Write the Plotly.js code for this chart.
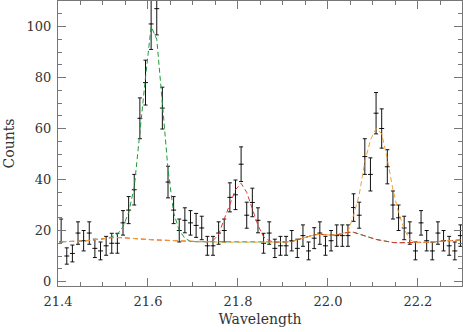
<!DOCTYPE html>
<html>
<head>
<meta charset="utf-8">
<script src="https://cdn.plot.ly/plotly-3.0.1.min.js"></script>
<style>
  html, body { margin: 0; padding: 0; background: #fff; }
  #plot { width: 463px; height: 332px; }
</style>
</head>
<body>
<div id="plot"></div>
<script>
// bin centres (Angstrom)
var wavelength = [21.407, 21.4195, 21.432, 21.4445, 21.457, 21.4695, 21.482, 21.4945, 21.507, 21.5195,
  21.532, 21.5445, 21.557, 21.5695, 21.582, 21.5945, 21.607, 21.6195, 21.632, 21.6445,
  21.657, 21.6695, 21.682, 21.6945, 21.707, 21.7195, 21.732, 21.7445, 21.757, 21.7695,
  21.782, 21.7945, 21.807, 21.8195, 21.832, 21.8445, 21.857, 21.8695, 21.882, 21.8945,
  21.907, 21.9195, 21.932, 21.9445, 21.957, 21.9695, 21.982, 21.9945, 22.007, 22.0195,
  22.032, 22.0445, 22.057, 22.0695, 22.082, 22.0945, 22.107, 22.1195, 22.132, 22.1445,
  22.157, 22.1695, 22.182, 22.1945, 22.207, 22.2195, 22.232, 22.2445, 22.257, 22.2695,
  22.282, 22.2945];

// observed counts and errors
var counts = [20, 10, 11, 19, 16, 19, 13, 12, 14, 15,
  15, 23, 28, 36, 64, 78, 101, 107, 68, 39,
  28, 20, 24, 23, 22, 21, 14, 14, 19, 20,
  33, 34, 46, 26, 31, 24, 15, 19, 13, 14,
  14, 16, 13, 18, 12, 17, 19, 14, 16, 18,
  18, 18, 29, 26, 49, 42, 66, 60, 45, 30,
  25, 21, 19, 12, 23, 16, 12, 19, 16, 14,
  12, 18];
var countErr = [4.5, 3.2, 3.3, 4.4, 4.0, 4.4, 3.6, 3.5, 3.7, 3.9,
  3.9, 4.8, 5.3, 6.0, 8.0, 8.8, 10.0, 10.3, 8.2, 6.2,
  5.3, 4.5, 4.9, 4.8, 4.7, 4.6, 3.7, 3.7, 4.4, 4.5,
  5.7, 5.8, 6.8, 5.1, 5.6, 4.9, 3.9, 4.4, 3.6, 3.7,
  3.7, 4.0, 3.6, 4.2, 3.5, 4.1, 4.4, 3.7, 4.0, 4.2,
  4.2, 4.2, 5.4, 5.1, 7.0, 6.5, 8.1, 7.7, 6.7, 5.5,
  5.0, 4.6, 4.4, 3.5, 4.8, 4.0, 3.5, 4.4, 4.0, 3.7,
  3.5, 4.2];
var binHalfWidth = 0.0055;

// model continuum at each bin
var continuum = [15.6, 15.6, 15.7, 15.8, 15.9, 16.1, 16.3, 16.6, 16.9, 17.2,
  17.3, 17.2, 17.0, 16.8, 16.6, 16.5, 16.4, 16.3, 16.2, 16.1,
  16.0, 15.9, 15.8, 15.7, 15.6, 15.6, 15.5, 15.5, 15.4, 15.4,
  15.4, 15.4, 15.4, 15.4, 15.4, 15.4, 15.4, 15.4, 15.4, 15.4,
  15.5, 15.7, 16.3, 17.1, 17.8, 18.3, 18.5, 18.3, 18.2, 18.3,
  18.8, 19.3, 19.3, 18.7, 18.0, 17.2, 16.5, 16.0, 15.6, 15.3,
  15.2, 15.2, 15.2, 15.2, 15.3, 15.4, 15.5, 15.6, 15.8, 16.0,
  16.1, 16.3];

// line models where they rise above the continuum (start bin + values)
var greenStart = 9;
var greenLine = [17.5, 18.5, 21.5, 27, 37, 60, 80, 100, 95, 70, 44, 27, 20, 17];
var redStart = 27;
var redLine = [16, 18.5, 24.5, 30.5, 36, 38.5, 35, 28.5, 22, 17.5, 16];
var orangeStart = 51;
var orangeLine = [19.5, 26, 34, 47, 55.5, 60, 58, 48, 36, 27, 20.5, 16.5];

function withLine(start, vals) {
  var m = continuum.slice();
  for (var i = 0; i < vals.length; i++) m[start + i] = vals[i];
  return m;
}

var dataTrace = {
  x: wavelength,
  y: counts,
  mode: "markers",
  type: "scatter",
  marker: { size: 1, color: "#000" },
  error_y: { type: "data", array: countErr, color: "#111", thickness: 1, width: 2 },
  error_x: { type: "constant", value: binHalfWidth, color: "#111", thickness: 1, width: 0 },
  hoverinfo: "skip"
};

function modelTrace(y, color) {
  return {
    x: wavelength,
    y: y,
    mode: "lines",
    type: "scatter",
    line: { color: color, width: 1, dash: "5px,3px" },
    hoverinfo: "skip"
  };
}

var data = [
  dataTrace,
  modelTrace(withLine(greenStart, greenLine), "#1f9a3c"),
  modelTrace(withLine(redStart, redLine), "#e0352a"),
  modelTrace(withLine(orangeStart, orangeLine), "#f2a033")
];

var axisFont = { family: "DejaVu Serif", size: 13, color: "#333" };

var layout = {
  width: 463,
  height: 332,
  margin: { l: 58, r: 1, t: 1, b: 46 },
  showlegend: false,
  paper_bgcolor: "#fff",
  plot_bgcolor: "#fff",
  font: axisFont,
  xaxis: {
    range: [21.4, 22.298],
    tick0: 21.4,
    dtick: 0.2,
    tickformat: ".1f",
    ticks: "inside",
    ticklen: 8,
    tickcolor: "#777",
    showline: true,
    linecolor: "#777",
    linewidth: 1,
    mirror: "ticks",
    showgrid: false,
    zeroline: false,
    tickfont: axisFont,
    ticklabelstandoff: 3,
    minor: { dtick: 0.05, ticks: "inside", ticklen: 4, tickcolor: "#777" },
    title: { text: "Wavelength", font: { family: "DejaVu Serif", size: 14, color: "#333" }, standoff: 6 }
  },
  yaxis: {
    range: [-1.76, 110],
    tick0: 0,
    dtick: 20,
    ticks: "inside",
    ticklen: 8,
    tickcolor: "#777",
    showline: true,
    linecolor: "#777",
    linewidth: 1,
    mirror: "ticks",
    showgrid: false,
    zeroline: false,
    tickfont: axisFont,
    ticklabelstandoff: 3,
    minor: { dtick: 5, ticks: "inside", ticklen: 4, tickcolor: "#777" },
    title: { text: "Counts", font: { family: "DejaVu Serif", size: 14, color: "#333" }, standoff: 8 }
  }
};

Plotly.newPlot("plot", data, layout, { staticPlot: true, displayModeBar: false });
</script>
</body>
</html>
